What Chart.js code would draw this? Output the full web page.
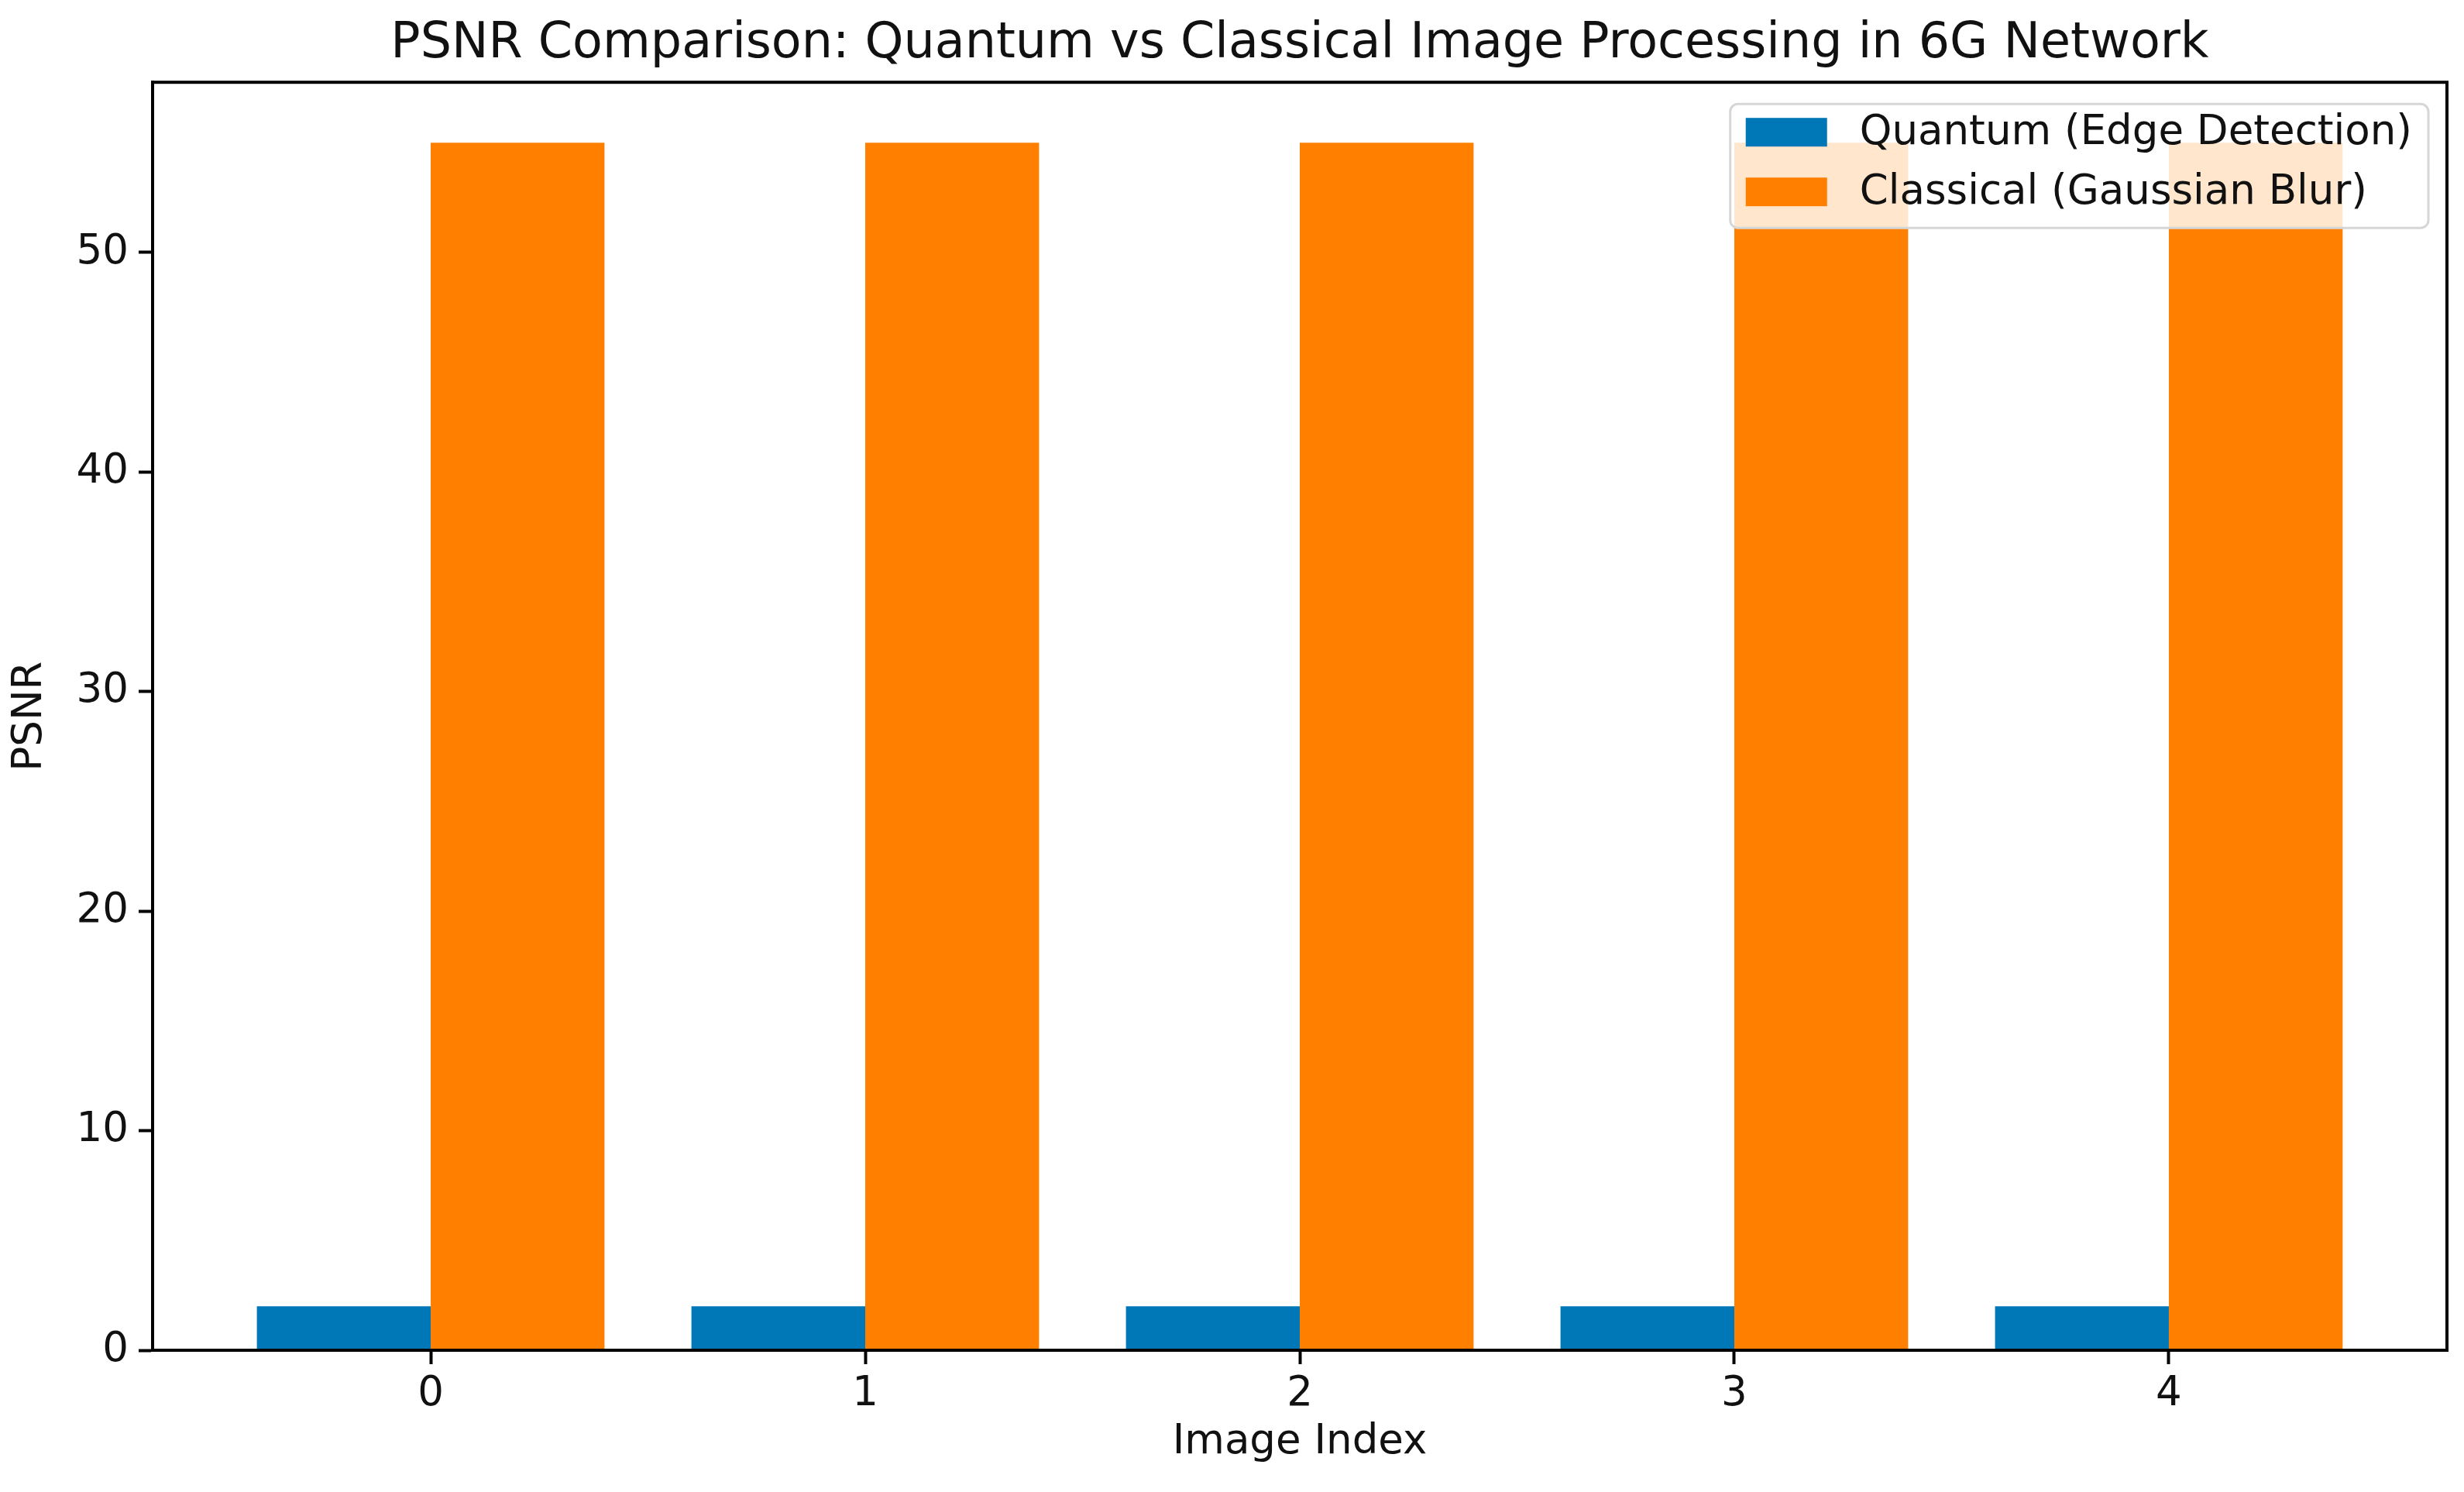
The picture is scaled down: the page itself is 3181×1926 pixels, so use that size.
<!DOCTYPE html>
<html>
<head>
<meta charset="utf-8">
<title>PSNR Comparison</title>
<script src="https://cdn.jsdelivr.net/npm/chart.js@4.4.1/dist/chart.umd.min.js"></script>
<style>
    body { margin: 0; background: #fff; }
    #psnr-chart { display: block; }
</style>
</head>
<body>
<canvas id="psnr-chart" width="3181" height="1926"></canvas>
<script>
const imageIndex = [0, 1, 2, 3, 4]
const quantumPSNR = [2, 2, 2, 2, 2]
const classicalPSNR = [55, 55, 55, 55, 55]
const seriesNames = ['Quantum (Edge Detection)', 'Classical (Gaussian Blur)']
const seriesColors = ['#0077b6', '#ff8000']

Chart.defaults.font.family = "'DejaVu Sans', sans-serif"
Chart.defaults.color = '#111'

// matplotlib style frame + legend drawn inside the axes
const frameAndLegend = {
    id: 'frameAndLegend',
    afterDatasetsDraw(chart) {
        const ctx = chart.ctx
        const area = chart.chartArea
        ctx.save()
        ctx.strokeStyle = '#000'
        ctx.lineWidth = 4
        ctx.strokeRect(area.left, area.top, area.right - area.left, area.bottom - area.top)

        ctx.font = "53px 'DejaVu Sans'"
        let textW = 0
        chart.data.datasets.forEach(ds => { textW = Math.max(textW, ctx.measureText(ds.label).width) })
        const w = 20 + 105 + 42 + textW + 21
        const h = 160
        const x0 = area.right - 24 - w
        const y0 = area.top + 28

        ctx.beginPath()
        ctx.roundRect(x0, y0, w, h, 10)
        ctx.fillStyle = 'rgba(255,255,255,0.8)'
        ctx.fill()
        ctx.strokeStyle = '#d6d6d6'
        ctx.lineWidth = 3
        ctx.stroke()

        ctx.textBaseline = 'middle'
        ctx.textAlign = 'left'
        chart.data.datasets.forEach((ds, i) => {
            const cy = y0 + 36 + i * 77
            ctx.fillStyle = ds.backgroundColor
            ctx.fillRect(x0 + 20, cy - 18, 105, 37)
            ctx.fillStyle = '#111'
            ctx.fillText(ds.label, x0 + 20 + 105 + 42, cy + 2)
        })
        ctx.restore()
    }
}

const ctx = document.getElementById('psnr-chart')
const psnrChart = new Chart(ctx, {
    type: 'bar',
    data: {
        labels: imageIndex,
        datasets: [
            { label: seriesNames[0], data: quantumPSNR, backgroundColor: seriesColors[0], borderWidth: 0 },
            { label: seriesNames[1], data: classicalPSNR, backgroundColor: seriesColors[1], borderWidth: 0 }
        ]
    },
    options: {
        responsive: false,
        animation: false,
        devicePixelRatio: 1,
        layout: { padding: { left: 0, right: 22, top: 0, bottom: 0 } },
        datasets: { bar: { categoryPercentage: 0.8, barPercentage: 1.0 } },
        plugins: {
            legend: { display: false },
            tooltip: { enabled: false },
            title: {
                display: true,
                fullSize: false,
                text: 'PSNR Comparison: Quantum vs Classical Image Processing in 6G Network',
                color: '#111',
                font: { size: 63.5, weight: 'normal', lineHeight: 1.2 },
                padding: { top: 19, bottom: 11 }
            }
        },
        scales: {
            x: {
                type: 'linear',
                min: -0.64,
                max: 4.64,
                offset: false,
                afterFit: (scale) => { scale.height = 183 },
                ticks: { stepSize: 1, includeBounds: false, padding: 7, color: '#111', font: { size: 53 } },
                grid: { offset: false, drawOnChartArea: false, drawTicks: true, tickLength: 18, tickWidth: 4, color: '#000' },
                border: { display: true, color: '#000', width: 4 },
                title: { display: true, text: 'Image Index', color: '#111', font: { size: 53 }, padding: { top: 0, bottom: 32 } }
            },
            y: {
                min: 0,
                max: 57.75,
                afterFit: (scale) => { scale.width = 197 },
                ticks: { stepSize: 10, includeBounds: false, padding: 13, color: '#111', font: { size: 53 } },
                grid: { drawOnChartArea: false, drawTicks: true, tickLength: 18, tickWidth: 4, color: '#000' },
                border: { display: true, color: '#000', width: 4 },
                title: { display: true, text: 'PSNR', color: '#111', font: { size: 53 }, padding: { top: 7, bottom: 0 } }
            }
        }
    },
    plugins: [frameAndLegend]
})
</script>
</body>
</html>
